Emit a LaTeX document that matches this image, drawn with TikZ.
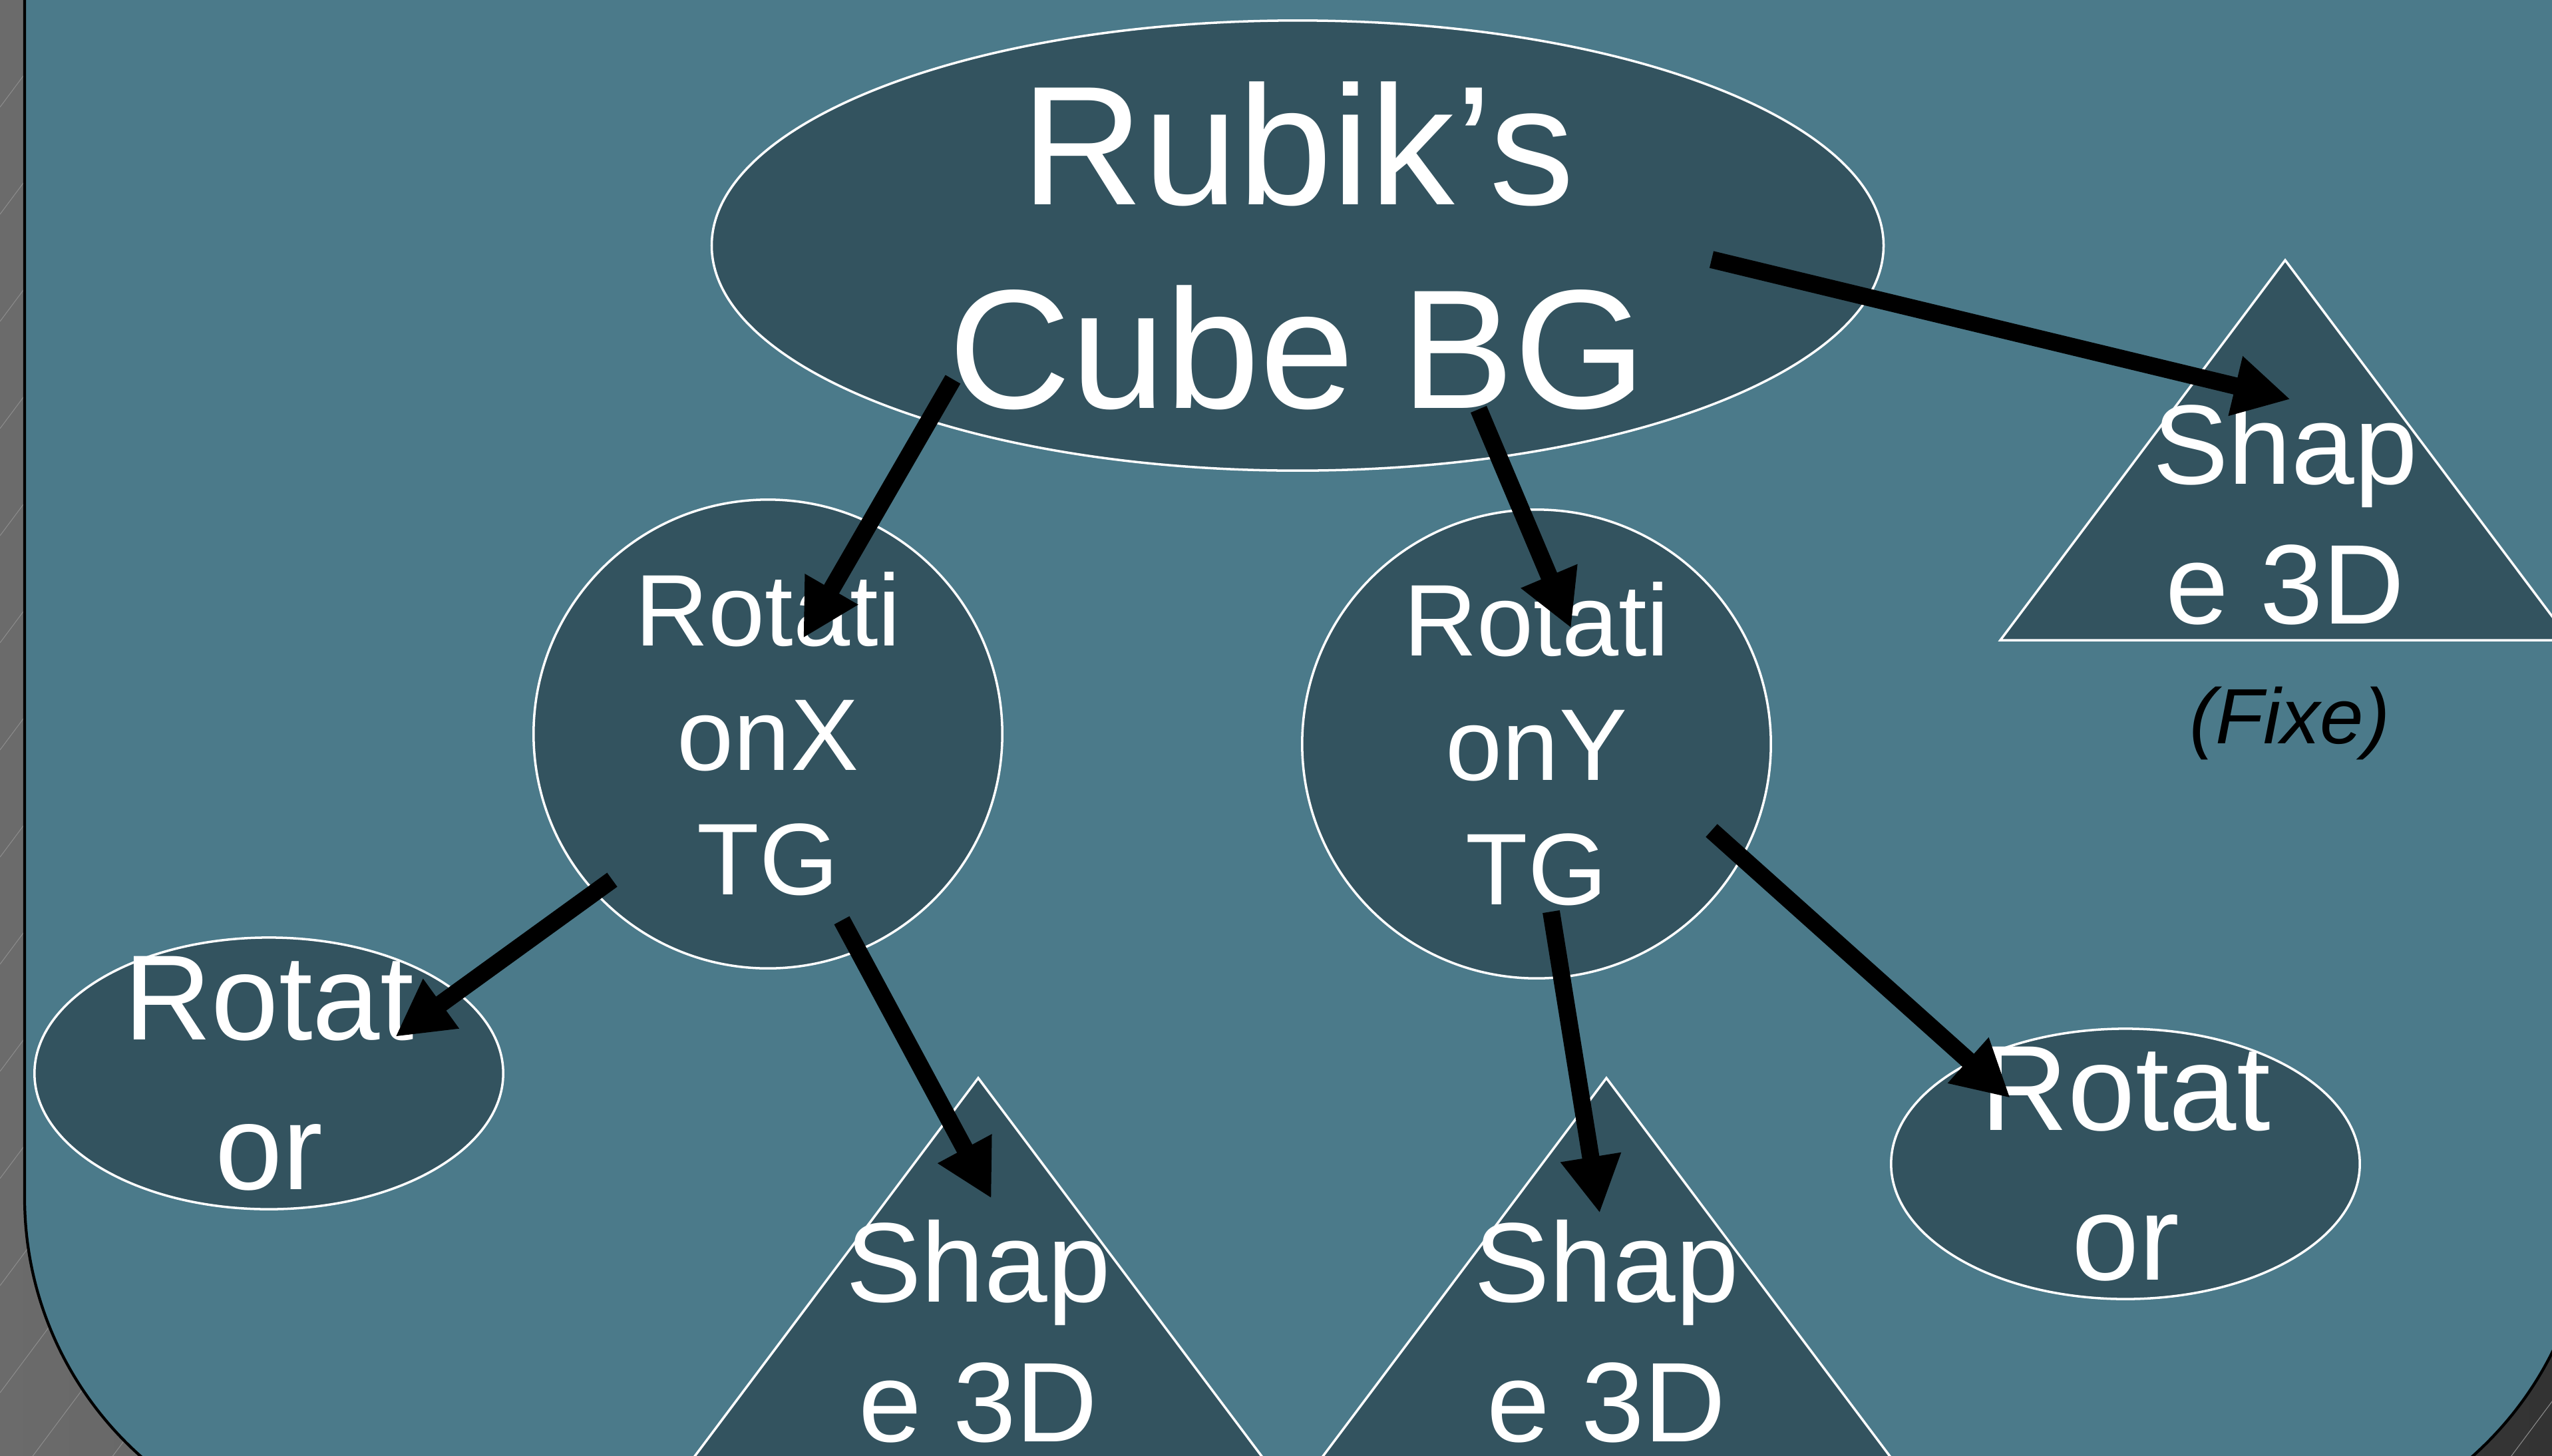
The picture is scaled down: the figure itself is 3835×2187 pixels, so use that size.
\documentclass[tikz,border=0pt]{standalone}
\usepackage{fontspec}
\setmainfont{Liberation Sans}
\usetikzlibrary{shapes.geometric, arrows.meta, calc}

\definecolor{panel}{RGB}{75,122,138}
\definecolor{nodefill}{RGB}{51,83,95}
\definecolor{bgleft}{RGB}{107,107,107}
\definecolor{bgright}{RGB}{51,51,51}
\definecolor{hatch}{RGB}{140,140,140}

\newcommand{\cubefont}{\fontsize{72.5}{87}\selectfont}
\newcommand{\tgfont}{\fontsize{43.5}{53.2}\selectfont}
\newcommand{\rotfont}{\fontsize{51.8}{64}\selectfont}
\newcommand{\shapefont}{\fontsize{48.4}{59.7}\selectfont}
\newcommand{\notefont}{\fontsize{33.5}{40}\selectfont\itshape}

\begin{document}
\begin{tikzpicture}[x=0.01cm, y=-0.01cm,
  box/.style={draw=white, line width=1pt, fill=nodefill, inner sep=0pt},
  txt/.style={text=white, align=center, inner sep=0pt},
  link/.style={line width=2.6mm, -{Triangle[length=8.5mm, width=8.6mm]}}]
\useasboundingbox (0,0) rectangle (3835,2187);
\shade[left color=bgleft, right color=bgright] (0,0) rectangle (3835,2187);
\foreach \k in {1,...,46}
  \draw[hatch, line width=0.3pt] (0,\k*161) -- ({\k*161/1.34},0);
\draw[fill=panel, line width=1.2pt, rounded corners=5.2cm] (37,-600) rectangle (3890,2320);

\node[box, ellipse, minimum width=17.6cm, minimum height=6.76cm,
  label={[txt, font=\cubefont]center:Rubik’s\\Cube BG}] (cube) at (1950,369) {};
\node[box, circle, minimum size=7.04cm,
  label={[txt, font=\tgfont]center:Rotati\\onX\\TG}] (rotX) at (1154,1103) {};
\node[box, circle, minimum size=7.04cm,
  label={[txt, font=\tgfont]center:Rotati\\onY\\TG}] (rotY) at (2309,1118) {};
\node[box, ellipse, minimum width=7.04cm, minimum height=4.08cm,
  label={[txt, font=\rotfont]center:Rotat\\or}] (rotL) at (404,1613) {};
\node[box, ellipse, minimum width=7.04cm, minimum height=4.06cm,
  label={[txt, font=\rotfont]center:Rotat\\or}] (rotR) at (3194,1749) {};

\path[box] (3434,391) -- ++(428,571) -- ++(-856,0) -- cycle;
\path[box] (1470,1620) -- ++(428,571) -- ++(-856,0) -- cycle;
\path[box] (2414,1620) -- ++(428,571) -- ++(-856,0) -- cycle;
\node[txt, font=\shapefont] (shapeT) at (3434,772) {Shap\\e 3D};
\node[txt, font=\shapefont] (shapeA) at (1470,2001) {Shap\\e 3D};
\node[txt, font=\shapefont] (shapeB) at (2414,2001) {Shap\\e 3D};
\node[font=\notefont] (fixe) at (3441,1087) {(Fixe)};

\draw[link] ($(cube.center)+(-518,201)$) -- ($(rotX.center)+(53,-144)$);
\draw[link] ($(cube.center)+(272,246)$) -- ($(rotY.center)+(52,-174)$);
\draw[link] ($(cube.center)+(622,21)$) -- ($(shapeT.center)+(8,-172)$);
\draw[link] ($(rotX.center)+(-234,219)$) -- ($(rotL.center)+(190,-55)$);
\draw[link] ($(rotX.center)+(111,280)$) -- ($(shapeA.center)+(20,-200)$);
\draw[link] ($(rotY.center)+(22,252)$) -- ($(shapeB.center)+(-10,-178)$);
\draw[link] ($(rotY.center)+(263,130)$) -- ($(rotR.center)+(-173,-99)$);
\end{tikzpicture}
\end{document}
